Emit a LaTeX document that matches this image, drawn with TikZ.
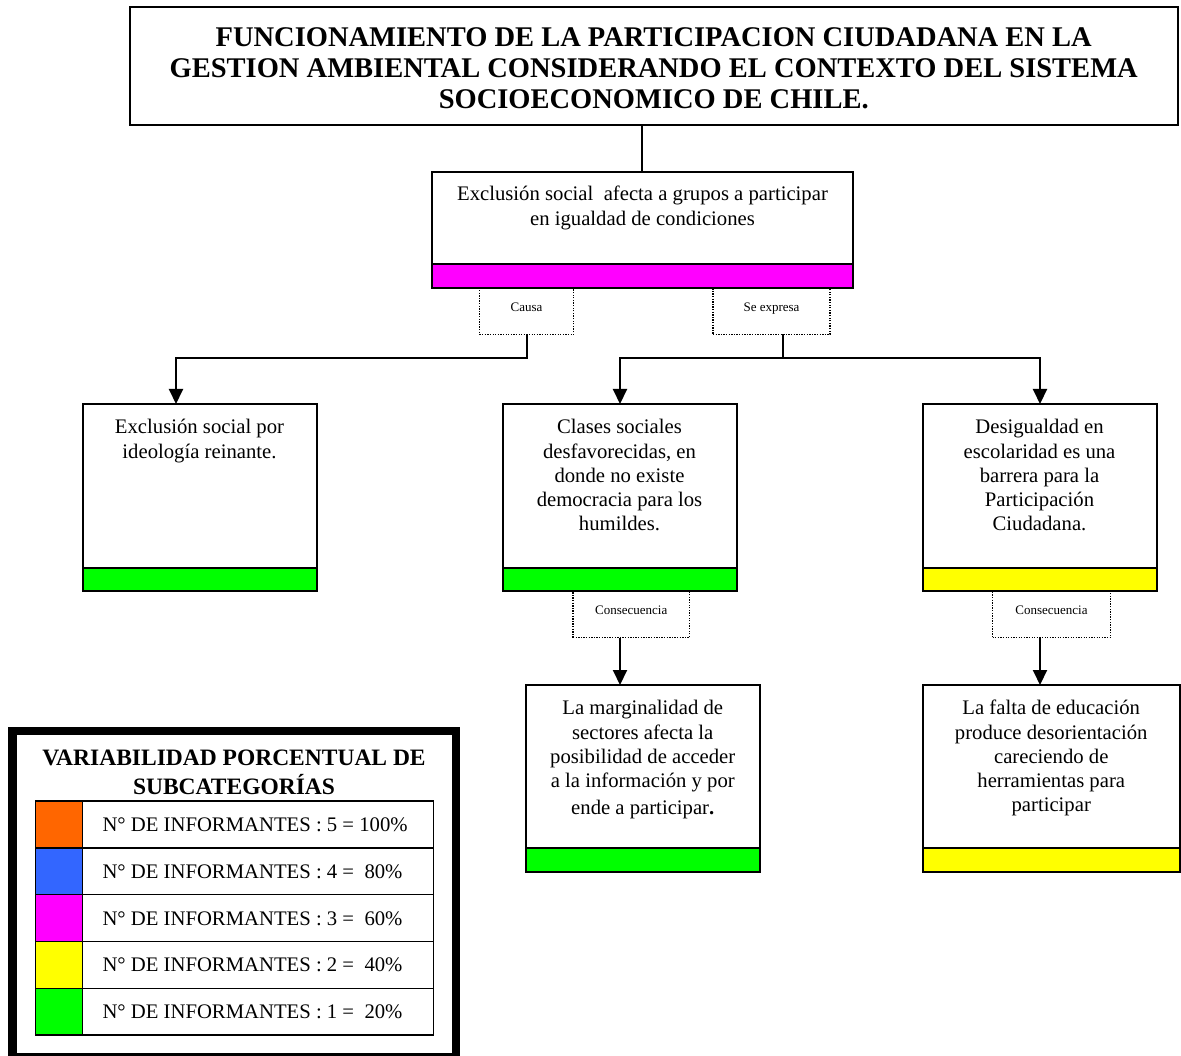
\documentclass[tikz,border=0pt]{standalone}
\usepackage{fontspec}
\setmainfont{Liberation Serif}
\usetikzlibrary{arrows.meta,calc}
\definecolor{cOrange}{HTML}{FF6600}
\definecolor{cBlue}{HTML}{3366FF}
\definecolor{cMagenta}{HTML}{FF00FF}
\definecolor{cYellow}{HTML}{FFFF00}
\definecolor{cGreen}{HTML}{00FF00}
\begin{document}
\begin{tikzpicture}[x=1pt,y=-1pt,
  every node/.append style={outer sep=0pt},
  box/.style={draw, line width=2pt, inner sep=0pt, anchor=north west},
  band/.style={draw, line width=2pt, inner sep=0pt, anchor=south west, minimum height=23.5pt},
  lblbox/.style={draw, line width=1.4pt, dash pattern=on 1.3pt off 1.3pt, inner sep=0pt, anchor=north west, minimum height=46.5pt},
  lbltxt/.style={inner sep=0pt, anchor=north, font=\fontsize{13}{15.6}\selectfont},
  txt/.style={align=center, inner sep=0pt, anchor=north, font=\fontsize{20.7}{24.2}\selectfont},
  conn/.style={line width=2pt},
  arr/.style={line width=2pt, -{Triangle[length=15pt,width=14pt]}},
  cell/.style={draw, line width=1.4pt, inner sep=0pt, anchor=north west, minimum height=46.8pt},
  celltxt/.style={inner sep=0pt, anchor=base west, font=\fontsize{20.7}{24}\selectfont},
]
\useasboundingbox (0,0) rectangle (1181,1056);

% title
\node[box, minimum width=1048.5pt, minimum height=117.5pt] (title) at (129.5,7.5) {};
\node[align=center, inner sep=0pt, font=\bfseries\fontsize{28.5}{31}\selectfont]
  (titletxt) at ([yshift=-2.5pt]title.center)
  {FUNCIONAMIENTO DE LA PARTICIPACION CIUDADANA EN LA\\
   GESTION AMBIENTAL CONSIDERANDO EL CONTEXTO DEL SISTEMA\\
   SOCIOECONOMICO DE CHILE.};

% level 1
\node[box, minimum width=421pt, minimum height=116pt] (a) at (432,172) {};
\node[band, fill=cMagenta, minimum width=421pt] (aband) at (a.south west) {};
\node[txt] (atxt) at ([yshift=-12pt]a.north)
  {\strut Exclusión social\ \ afecta a grupos a participar\\en igualdad de condiciones};
\coordinate (tj) at (642,0);
\draw[conn] (title.south -| tj) -- (a.north -| tj);

% label boxes
\node[lblbox, minimum width=94pt] (causa) at (479.5,288) {};
\node[lbltxt] (causatxt) at ([yshift=-12.8pt]causa.north) {\strut Causa};
\node[lblbox, minimum width=117pt] (sexp) at (713,288) {};
\node[lbltxt] (sexptxt) at ([yshift=-12.8pt]sexp.north) {\strut Se expresa};

% level 2
\node[box, minimum width=234pt, minimum height=187pt] (b1) at (82.5,404) {};
\node[band, fill=cGreen, minimum width=234pt] (b1band) at (b1.south west) {};
\node[txt] (b1txt) at ([yshift=-13pt]b1.north) {\strut Exclusión social por\\ideología reinante.};

\node[box, minimum width=234pt, minimum height=187pt] (b2) at (502.5,404) {};
\node[band, fill=cGreen, minimum width=234pt] (b2band) at (b2.south west) {};
\node[txt] (b2txt) at ([yshift=-13pt]b2.north)
  {\strut Clases sociales\\desfavorecidas, en\\donde no existe\\democracia para los\\humildes.};

\node[box, minimum width=234pt, minimum height=187pt] (b3) at (922.5,404) {};
\node[band, fill=cYellow, minimum width=234pt] (b3band) at (b3.south west) {};
\node[txt] (b3txt) at ([yshift=-13pt]b3.north)
  {\strut Desigualdad en\\escolaridad es una\\barrera para la\\Participación\\Ciudadana.};

% connectors level 1 -> 2
\coordinate (x1) at (176,0);
\coordinate (x2) at (620,0);
\coordinate (x3) at (1040,0);
\coordinate (sj) at (783,0);
\draw[arr] (causa.south) -- ++(0,23.5) -| (b1.north -| x1);
\draw[conn] (causa.south -| sj) -- ++(0,23.5) coordinate (sjy);
\draw[arr] (sjy) -| (b2.north -| x2);
\draw[arr] (sjy) -| (b3.north -| x3);

% consequence labels
\node[lblbox, minimum width=116.5pt] (cons2) at (573,591) {};
\node[lbltxt] (cons2txt) at ([yshift=-12.5pt]cons2.north) {\strut Consecuencia};
\node[lblbox, minimum width=118pt] (cons3) at (992.5,591) {};
\node[lbltxt] (cons3txt) at ([yshift=-12.5pt]cons3.north) {\strut Consecuencia};

% level 3
\node[box, minimum width=233.5pt, minimum height=186.5pt] (c2) at (526,685) {};
\node[band, fill=cGreen, minimum width=233.5pt] (c2band) at (c2.south west) {};
\node[txt] (c2txt) at ([yshift=-13pt]c2.north)
  {\strut La marginalidad de\\sectores afecta la\\posibilidad de acceder\\a la información y por\\[3pt]ende a participar\textbf{.}};

\node[box, minimum width=257.5pt, minimum height=186.5pt] (c3) at (922.5,685) {};
\node[band, fill=cYellow, minimum width=257.5pt] (c3band) at (c3.south west) {};
\node[txt] (c3txt) at ([yshift=-13pt]c3.north)
  {\strut La falta de educación\\produce desorientación\\careciendo de\\herramientas para\\participar};

\draw[arr] (cons2.south -| x2) -- (c2.north -| x2);
\draw[arr] (cons3.south -| x3) -- (c3.north -| x3);

% legend
\node[draw, line width=8.3pt, inner sep=0pt, anchor=north west, minimum width=443.5pt, minimum height=326pt] (legend) at (12.5,731) {};
\node[align=center, inner sep=0pt, anchor=north, font=\bfseries\fontsize{23.5}{27}\selectfont]
  (legtitle) at (234,746.8) {\strut VARIABILIDAD PORCENTUAL DE\\SUBCATEGORÍAS};

\node[cell, fill=cOrange, minimum width=47pt] (k1) at (35.5,801) {};
\node[cell, minimum width=351pt] (t1) at (k1.north east) {};
\node[cell, fill=cBlue, minimum width=47pt] (k2) at (k1.south west) {};
\node[cell, minimum width=351pt] (t2) at (k2.north east) {};
\node[cell, fill=cMagenta, minimum width=47pt] (k3) at (k2.south west) {};
\node[cell, minimum width=351pt] (t3) at (k3.north east) {};
\node[cell, fill=cYellow, minimum width=47pt] (k4) at (k3.south west) {};
\node[cell, minimum width=351pt] (t4) at (k4.north east) {};
\node[cell, fill=cGreen, minimum width=47pt] (k5) at (k4.south west) {};
\node[cell, minimum width=351pt] (t5) at (k5.north east) {};

\node[celltxt] (l1) at ([xshift=20pt,yshift=-7pt]t1.west) {N° DE INFORMANTES : 5 = 100\%};
\node[celltxt] (l2) at ([xshift=20pt,yshift=-7pt]t2.west) {N° DE INFORMANTES : 4 =\ \ 80\%};
\node[celltxt] (l3) at ([xshift=20pt,yshift=-7pt]t3.west) {N° DE INFORMANTES : 3 =\ \ 60\%};
\node[celltxt] (l4) at ([xshift=20pt,yshift=-7pt]t4.west) {N° DE INFORMANTES : 2 =\ \ 40\%};
\node[celltxt] (l5) at ([xshift=20pt,yshift=-7pt]t5.west) {N° DE INFORMANTES : 1 =\ \ 20\%};
\end{tikzpicture}
\end{document}
